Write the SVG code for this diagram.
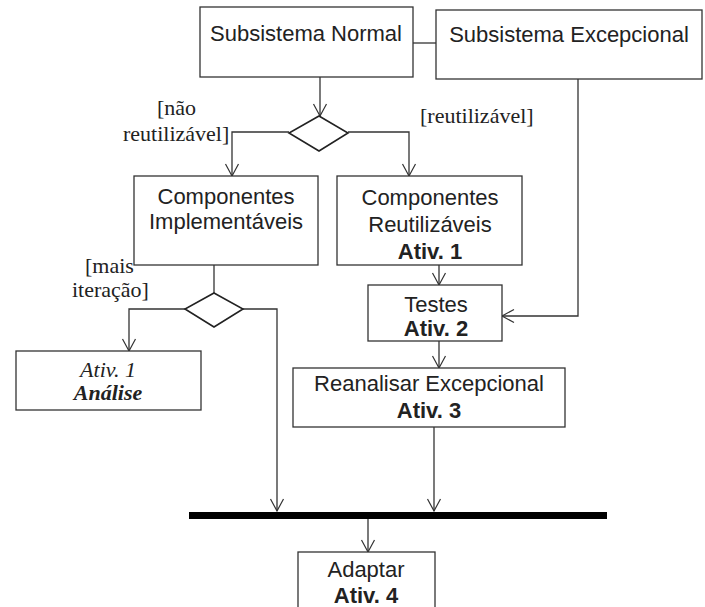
<svg xmlns="http://www.w3.org/2000/svg" width="705" height="607" viewBox="0 0 705 607">
<style>
.box{fill:#fff;stroke:#333;stroke-width:1.3}
.ln{fill:none;stroke:#333;stroke-width:1.3}
.dia{fill:#fff;stroke:#222;stroke-width:1.6}
.s{font-family:"Liberation Sans",Arial,sans-serif;font-size:22px;fill:#222;text-anchor:middle}
.b{font-weight:bold}
.r{font-family:"Liberation Serif","Times New Roman",serif;font-size:22px;fill:#222}
.c{text-anchor:middle}
</style>
<defs>
<marker id="v" markerWidth="16" markerHeight="16" refX="13" refY="8" orient="auto" markerUnits="userSpaceOnUse">
<polyline points="1,1.5 13,8 1,14.5" fill="none" stroke="#333" stroke-width="1.2"/>
</marker>
</defs>
<g id="connectors">
<line class="ln" x1="413" y1="43" x2="436" y2="43"/>
<line class="ln" x1="320" y1="77" x2="320" y2="116" marker-end="url(#v)"/>
<polyline class="ln" points="289,132 232,132 232,176" marker-end="url(#v)"/>
<polyline class="ln" points="348,132 409,132 409,176" marker-end="url(#v)"/>
<line class="ln" x1="214" y1="265" x2="214" y2="293"/>
<polyline class="ln" points="185,309 129,309 129,351" marker-end="url(#v)"/>
<polyline class="ln" points="243,309 277,309 277,511" marker-end="url(#v)"/>
<line class="ln" x1="439" y1="265" x2="439" y2="285" marker-end="url(#v)"/>
<polyline class="ln" points="578,79 578,316 502,316" marker-end="url(#v)"/>
<line class="ln" x1="439" y1="341" x2="439" y2="368" marker-end="url(#v)"/>
<line class="ln" x1="434" y1="427" x2="434" y2="511" marker-end="url(#v)"/>
<line class="ln" x1="368" y1="519" x2="368" y2="552" marker-end="url(#v)"/>
</g>
<g id="subsistema-normal">
<rect class="box" x="200" y="7" width="213" height="70"/>
<text class="s" x="306" y="41">Subsistema Normal</text>
</g>
<g id="subsistema-excepcional">
<rect class="box" x="436" y="10" width="266" height="69"/>
<text class="s" x="569" y="42">Subsistema Excepcional</text>
</g>
<g id="decisao-1">
<polygon class="dia" points="319,116 348,133 319,151 289,133"/>
<text class="r" x="157" y="115">[não</text>
<text class="r" x="123" y="141">reutilizável]</text>
<text class="r" x="420" y="123">[reutilizável]</text>
</g>
<g id="componentes-implementaveis">
<rect class="box" x="134" y="176" width="184" height="89"/>
<text class="s" x="226" y="204">Componentes</text>
<text class="s" x="226" y="229">Implementáveis</text>
</g>
<g id="componentes-reutilizaveis">
<rect class="box" x="337" y="176" width="185" height="89"/>
<text class="s" x="430" y="205">Componentes</text>
<text class="s" x="430" y="232">Reutilizáveis</text>
<text class="s b" x="430" y="259">Ativ. 1</text>
</g>
<g id="decisao-2">
<polygon class="dia" points="214,293 243,309 214,327 185,309"/>
<text class="r" x="85" y="273">[mais</text>
<text class="r" x="72" y="297">iteração]</text>
</g>
<g id="analise">
<rect class="box" x="16" y="351" width="185" height="59"/>
<text class="r c" x="108" y="377" font-style="italic">Ativ. 1</text>
<text class="r c" x="108" y="400" font-style="italic" font-weight="bold">Análise</text>
</g>
<g id="testes">
<rect class="box" x="368" y="285" width="134" height="56"/>
<text class="s" x="436" y="312">Testes</text>
<text class="s b" x="436" y="336">Ativ. 2</text>
</g>
<g id="reanalisar">
<rect class="box" x="293" y="368" width="272" height="59"/>
<text class="s" x="429" y="391">Reanalisar Excepcional</text>
<text class="s b" x="429" y="418">Ativ. 3</text>
</g>
<g id="juncao">
<rect x="189" y="512" width="418" height="7" fill="#000"/>
</g>
<g id="adaptar">
<rect class="box" x="298" y="552" width="137" height="60"/>
<text class="s" x="366" y="577">Adaptar</text>
<text class="s b" x="366" y="603">Ativ. 4</text>
</g>
</svg>
